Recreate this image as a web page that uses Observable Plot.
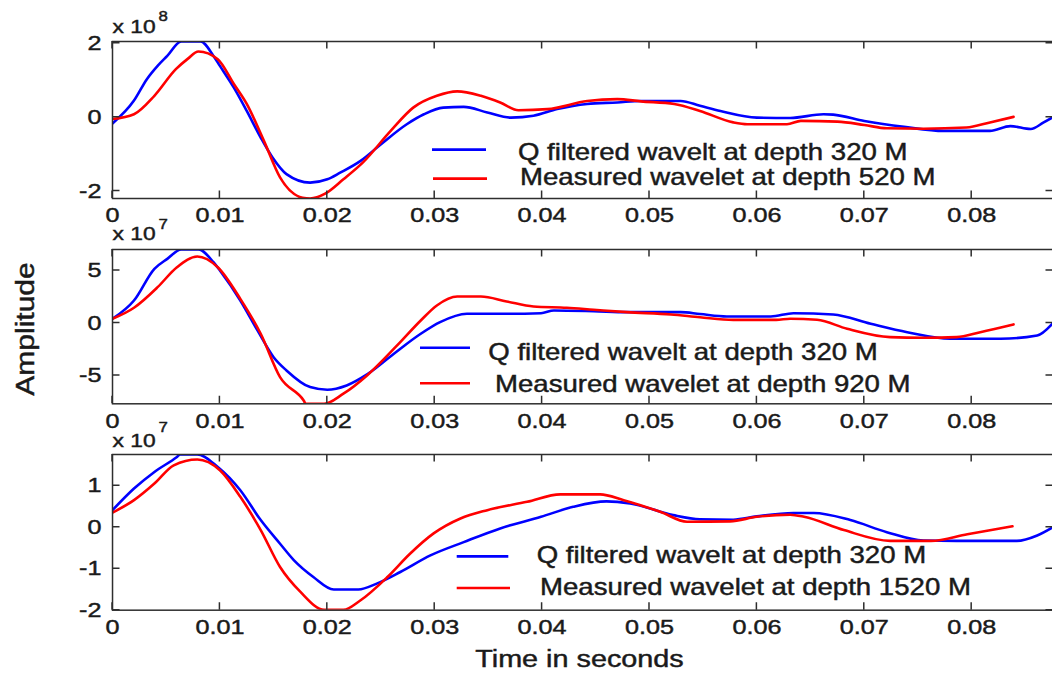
<!DOCTYPE html>
<html>
<head>
<meta charset="utf-8">
<script src="https://cdn.jsdelivr.net/npm/d3@7"></script>
<script src="https://cdn.jsdelivr.net/npm/@observablehq/plot@0.6"></script>
<style>
  html, body { margin: 0; padding: 0; background: #fff; overflow: hidden; }
  #chart { position: relative; width: 1052px; height: 674px; overflow: hidden; }
  #chart svg { position: absolute; left: 0; }
  #chart svg text { paint-order: stroke; stroke: #1a1a1a; stroke-width: 0.45px; }
  #chart svg g[aria-label="x-label"] text { stroke-width: 0.8px; }
</style>
</head>
<body>
<div id="chart"></div>
<script>
// ---- axis ticks ----
const timeTicks = [0, 0.01, 0.02, 0.03, 0.04, 0.05, 0.06, 0.07, 0.08];
const timeTickLabels = ["0", "0.01", "0.02", "0.03", "0.04", "0.05", "0.06", "0.07", "0.08"];
const ampTicksTop = [-2, 0, 2];
const ampTickLabelsTop = ["-2", "0", "2"];
const ampTicksMid = [-5, 0, 5];
const ampTickLabelsMid = ["-5", "0", "5"];
const ampTicksBot = [-2, -1, 0, 1];
const ampTickLabelsBot = ["-2", "-1", "0", "1"];
const exponents = ["8", "7", "7"];

// ---- legend text ----
const referenceDepth = 320;
const measuredDepths = [520, 920, 1520];

// ---- top panel (x 10^8) ----
const filteredTopT = [0, 0.002, 0.0032, 0.0042, 0.0051, 0.0064, 0.0082, 0.0094, 0.01, 0.0113, 0.0125, 0.0138, 0.0149, 0.0162, 0.0184, 0.02, 0.0212, 0.0231, 0.025, 0.0274, 0.029, 0.0308, 0.0327, 0.0349, 0.0371, 0.0392, 0.0414, 0.0442, 0.047, 0.0492, 0.0529, 0.0547, 0.0566, 0.06, 0.0631, 0.0662, 0.0671, 0.07, 0.0737, 0.0774, 0.0817, 0.0836, 0.0855, 0.0867, 0.0875];
const filteredTopV = [-0.17, 0.45, 1.03, 1.39, 1.66, 2.05, 2.05, 1.66, 1.39, 0.8, 0.17, -0.55, -1.09, -1.54, -1.77, -1.68, -1.5, -1.18, -0.73, -0.19, 0.08, 0.26, 0.28, 0.13, -0.01, 0.04, 0.22, 0.36, 0.4, 0.44, 0.44, 0.31, 0.17, -0.01, -0.02, 0.08, 0.07, -0.1, -0.26, -0.37, -0.37, -0.24, -0.32, -0.14, -0.01];
const measured520T = [0, 0.002, 0.0039, 0.0059, 0.007, 0.008, 0.0098, 0.0113, 0.0125, 0.0141, 0.0156, 0.0177, 0.0184, 0.0198, 0.0215, 0.0233, 0.0259, 0.028, 0.0302, 0.0321, 0.0343, 0.0361, 0.0378, 0.0405, 0.0442, 0.047, 0.0492, 0.0523, 0.0547, 0.0578, 0.0591, 0.0628, 0.0641, 0.0675, 0.07, 0.0721, 0.0755, 0.0795, 0.0817, 0.0839];
const measured520V = [-0.05, 0.08, 0.58, 1.3, 1.58, 1.78, 1.57, 0.9, 0.36, -0.64, -1.63, -2.18, -2.2, -2.07, -1.68, -1.23, -0.37, 0.26, 0.58, 0.7, 0.58, 0.4, 0.19, 0.22, 0.44, 0.49, 0.43, 0.36, 0.17, -0.14, -0.19, -0.19, -0.1, -0.12, -0.21, -0.3, -0.31, -0.28, -0.14, 0.01];

// ---- middle panel (x 10^7) ----
const filteredMidT = [0, 0.002, 0.0039, 0.0051, 0.0064, 0.008, 0.0094, 0.01, 0.0119, 0.0135, 0.015, 0.0162, 0.0184, 0.02, 0.0218, 0.0237, 0.0262, 0.0287, 0.0305, 0.033, 0.0367, 0.0399, 0.0411, 0.0448, 0.0479, 0.0529, 0.0547, 0.0572, 0.0613, 0.0634, 0.0671, 0.0706, 0.074, 0.078, 0.0827, 0.0861, 0.0875];
const filteredMidV = [0.4, 2.14, 5.16, 6.11, 7.0, 7.0, 5.79, 5.0, 2.14, -0.71, -3.26, -4.52, -6.11, -6.36, -5.95, -4.9, -2.93, -1.03, 0.08, 0.88, 0.88, 0.93, 1.19, 1.12, 1.03, 1.03, 0.85, 0.62, 0.62, 0.93, 0.81, -0.08, -0.88, -1.5, -1.5, -1.19, -0.08];
const measured920T = [0, 0.002, 0.0042, 0.006, 0.0079, 0.0098, 0.0119, 0.0138, 0.0156, 0.0178, 0.018, 0.0197, 0.0215, 0.0237, 0.0265, 0.0287, 0.0302, 0.0321, 0.0343, 0.0367, 0.0392, 0.0423, 0.0448, 0.0479, 0.052, 0.0547, 0.0578, 0.0618, 0.0631, 0.0656, 0.0684, 0.0724, 0.0755, 0.0786, 0.0808, 0.0839];
const measured920V = [0.4, 1.45, 3.41, 5.31, 6.33, 5.31, 2.3, -1.03, -5.16, -7.38, -7.7, -7.7, -6.74, -5.0, -2.14, 0.24, 1.67, 2.52, 2.52, 2.05, 1.57, 1.45, 1.26, 1.03, 0.81, 0.55, 0.3, 0.3, 0.4, 0.3, -0.55, -1.35, -1.41, -1.35, -0.88, -0.14];

// ---- bottom panel (x 10^7) ----
const filteredBotT = [0, 0.002, 0.0039, 0.006, 0.0063, 0.0079, 0.0098, 0.0119, 0.0138, 0.0156, 0.0169, 0.0187, 0.0206, 0.0229, 0.0246, 0.0268, 0.0296, 0.0327, 0.0361, 0.0399, 0.0429, 0.046, 0.0482, 0.0522, 0.0547, 0.0578, 0.06, 0.0634, 0.0653, 0.0687, 0.0721, 0.0755, 0.0786, 0.0842, 0.0861, 0.0875];
const filteredBotV = [0.41, 0.93, 1.33, 1.69, 1.75, 1.75, 1.45, 0.89, 0.17, -0.4, -0.8, -1.2, -1.5, -1.5, -1.36, -1.08, -0.68, -0.36, -0.03, 0.25, 0.49, 0.62, 0.57, 0.29, 0.19, 0.18, 0.26, 0.34, 0.34, 0.17, -0.12, -0.32, -0.33, -0.33, -0.2, -0.01];
const measured1520T = [0, 0.002, 0.0039, 0.0057, 0.0079, 0.01, 0.0119, 0.0138, 0.0156, 0.0175, 0.0197, 0.0215, 0.0231, 0.0256, 0.0277, 0.0299, 0.0324, 0.0349, 0.0386, 0.0417, 0.0454, 0.0476, 0.051, 0.0535, 0.0575, 0.06, 0.0631, 0.0644, 0.0681, 0.0724, 0.0762, 0.0796, 0.0838];
const measured1520V = [0.35, 0.65, 1.05, 1.49, 1.63, 1.37, 0.73, -0.07, -0.96, -1.56, -1.99, -1.99, -1.76, -1.2, -0.64, -0.15, 0.21, 0.41, 0.61, 0.79, 0.79, 0.65, 0.37, 0.13, 0.14, 0.25, 0.3, 0.25, -0.07, -0.33, -0.33, -0.17, 0.02];

// ---- layout / style ----
const BLUE = "#0000ff", RED = "#ff0000", INK = "#1a1a1a", FRAME = "#2e2e2e";
const FONT = "'Liberation Sans', Arial, Helvetica, sans-serif";
const WIDTH = 1056, ML = 112, MR = 3, MT = 40;
const X_DOMAIN = [0, (WIDTH - MR - ML) / 10740];
const TICK = 7.5;

const panels = [
  {
    svgTop: 0.7, innerH: 157, mb: 30, domain: [-2.2, 2.05],
    ticks: ampTicksTop, labels: ampTickLabelsTop, exp: exponents[0], expDy: [-9, -20.7],
    filtered: [filteredTopT, filteredTopV], measured: [measured520T, measured520V], depth: measuredDepths[0],
    legend: [{x1: 320, x2: 374, y: 108.6, tx: 406, ty: 118.6}, {x1: 321, x2: 375, y: 137.6, tx: 408, ty: 144.3}]
  },
  {
    svgTop: 209, innerH: 154.3, mb: 30, domain: [-7.7, 7.0],
    ticks: ampTicksMid, labels: ampTickLabelsMid, exp: exponents[1], expDy: [-9, -20.5],
    filtered: [filteredMidT, filteredMidV], measured: [measured920T, measured920V], depth: measuredDepths[1],
    legend: [{x1: 308, x2: 358, y: 98.7, tx: 376.3, ty: 111}, {x1: 308, x2: 358, y: 134.3, tx: 383, ty: 142.7}],
    yLabel: "Amplitude"
  },
  {
    svgTop: 414.3, innerH: 155.7, mb: 64, domain: [-2.0, 1.75],
    ticks: ampTicksBot, labels: ampTickLabelsBot, exp: exponents[2], expDy: [-7.6, -22],
    filtered: [filteredBotT, filteredBotV], measured: [measured1520T, measured1520V], depth: measuredDepths[2],
    legend: [{x1: 344.7, x2: 396.3, y: 102.4, tx: 424.7, ty: 109}, {x1: 344.7, x2: 398, y: 134, tx: 428, ty: 140.7}],
    xLabel: "Time in seconds"
  }
];

// inward tick marks on all four sides of the box, placed with the plot's scales
function boxTicks(xs, ys) {
  return (index, scales, values, dims) => {
    const {marginLeft: l, marginTop: t, width, height, marginRight: r, marginBottom: b} = dims;
    const right = width - r, bottom = height - b;
    const g = d3.create("svg:g")
      .attr("aria-label", "box-ticks")
      .attr("stroke", FRAME).attr("stroke-width", 1.5).attr("fill", "none");
    const path = d3.path();
    for (const v of xs) {
      const px = scales.x(v);
      path.moveTo(px, bottom); path.lineTo(px, bottom - TICK);
      path.moveTo(px, t); path.lineTo(px, t + TICK);
    }
    for (const v of ys) {
      const py = scales.y(v);
      path.moveTo(l, py); path.lineTo(l + TICK, py);
      path.moveTo(right, py); path.lineTo(right - TICK, py);
    }
    g.append("path").attr("d", path.toString());
    return g.node();
  };
}

function legendMark(rows, entries) {
  return (index, scales, values, dims) => {
    const g = d3.create("svg:g")
      .attr("aria-label", "legend")
      .attr("font-size", 23)
      .attr("text-anchor", "start")
      .attr("fill", INK);
    entries.forEach((e, i) => {
      const r = rows[i];
      g.append("line")
        .attr("x1", dims.marginLeft + r.x1).attr("x2", dims.marginLeft + r.x2)
        .attr("y1", dims.marginTop + r.y).attr("y2", dims.marginTop + r.y)
        .attr("stroke", e.color).attr("stroke-width", 2.6);
      g.append("text")
        .attr("x", dims.marginLeft + r.tx).attr("y", dims.marginTop + r.ty)
        .attr("text-anchor", "start")
        .text(e.text);
    });
    return g.node();
  };
}

// widen glyphs horizontally around each label's own anchor point
function stretch(el, fx, fy = 1) {
  const ax = parseFloat(el.getAttribute("x")) || 0;
  const t = el.getAttribute("transform") || "";
  el.setAttribute("transform", `${t} translate(${ax},0) scale(${fx},${fy}) translate(${-ax},0)`);
}

const chart = document.getElementById("chart");

panels.forEach((p) => {
  const fmtY = (d) => p.labels[p.ticks.indexOf(d)];
  const fmtX = (d) => timeTickLabels[timeTicks.indexOf(d)];
  const marks = [
    Plot.line(p.filtered[1], {x: p.filtered[0], y: p.filtered[1], stroke: BLUE, strokeWidth: 2.6, curve: "monotone-x", clip: true}),
    Plot.line(p.measured[1], {x: p.measured[0], y: p.measured[1], stroke: RED, strokeWidth: 2.6, curve: "monotone-x", clip: true}),
    Plot.frame({stroke: FRAME, strokeWidth: 1.5}),
    boxTicks(timeTicks, p.ticks),
    Plot.axisX(timeTicks, {anchor: "bottom", tickSize: 0, tickPadding: 9, tickFormat: fmtX, fontSize: 21, fill: INK, label: null}),
    Plot.axisY(p.ticks, {anchor: "left", tickSize: 0, tickPadding: 11, tickFormat: fmtY, fontSize: 21, fill: INK, label: null}),
    Plot.text(["x 10"], {text: (d) => d, frameAnchor: "top-left", dy: p.expDy[0], textAnchor: "start", lineAnchor: "bottom", fontSize: 19, fill: INK}),
    Plot.text([p.exp], {text: (d) => d, frameAnchor: "top-left", dx: 46, dy: p.expDy[1], textAnchor: "start", lineAnchor: "bottom", fontSize: 14, fill: INK}),
    legendMark(p.legend, [
      {color: BLUE, text: `Q filtered wavelt at depth ${referenceDepth} M`},
      {color: RED, text: `Measured wavelet at depth ${p.depth} M`}
    ])
  ];
  if (p.yLabel) {
    marks.push(Plot.text([p.yLabel], {text: (d) => d, frameAnchor: "left", dx: -79, dy: 2.3, rotate: -90, textAnchor: "middle", lineAnchor: "bottom", fontSize: 25, fill: INK, ariaLabel: "y-label"}));
  }
  if (p.xLabel) {
    marks.push(Plot.text([p.xLabel], {text: (d) => d, frameAnchor: "bottom", dx: -3.5, dy: 57, textAnchor: "middle", lineAnchor: "bottom", fontSize: 24, fill: INK, ariaLabel: "x-label"}));
  }

  const svg = Plot.plot({
    width: WIDTH,
    height: MT + p.innerH + p.mb,
    marginLeft: ML, marginRight: MR, marginTop: MT, marginBottom: p.mb,
    x: {domain: X_DOMAIN, label: null},
    y: {domain: p.domain, label: null},
    style: {fontFamily: FONT, fontSize: "21px", background: "transparent", maxWidth: "none", overflow: "visible", color: INK},
    marks
  });
  svg.style.top = (p.svgTop) + "px";
  chart.appendChild(svg);

  // horizontal glyph widening, as the original figure shows
  svg.querySelectorAll("text").forEach((el) => {
    const g = el.closest("g[aria-label]");
    const label = g ? g.getAttribute("aria-label") : "";
    if (label === "y-label") stretch(el, 1, 1.2);
    else if (label === "x-label") stretch(el, 1.42);
    else stretch(el, 1.2);
  });
});
</script>
</body>
</html>
